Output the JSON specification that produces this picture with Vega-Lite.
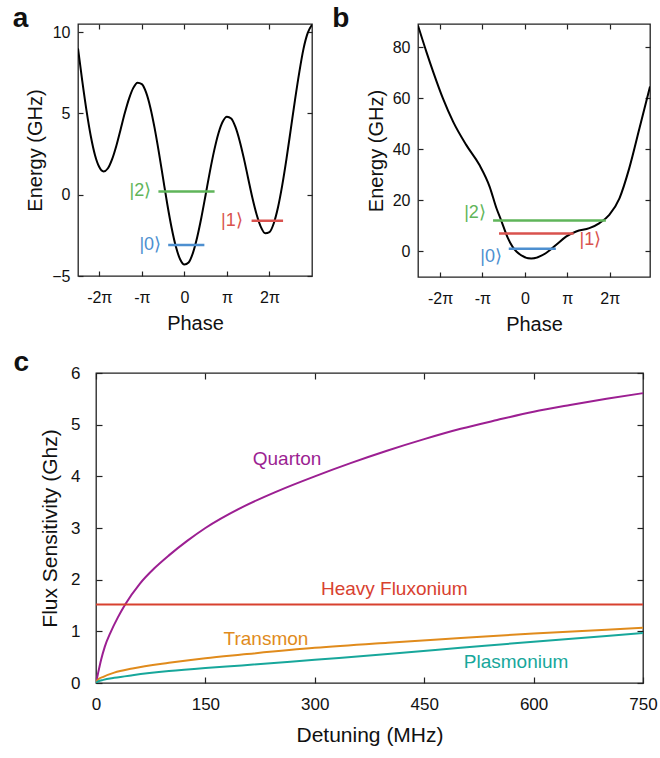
{
  "$schema": "https://vega.github.io/schema/vega-lite/v6.json",
  "padding": {"left": 12, "top": 4, "right": 8, "bottom": 4},
  "background": "white",
  "config": {
    "font": "Liberation Sans",
    "view": {"stroke": "#222", "strokeWidth": 1.3},
    "axis": {"domain": false, "grid": false, "tickColor": "#222", "tickSize": 5, "offset": -5, "tickWidth": 1.2, "labelFontSize": 16, "titleFontSize": 20, "titleFontWeight": "normal", "labelColor": "#111", "titleColor": "#111", "labelFlush": false, "labelOverlap": false},
    "title": {"fontSize": 28, "fontWeight": "bold", "anchor": "start", "frame": "bounds", "baseline": "alphabetic", "color": "#111"}
  },
  "resolve": {"scale": {"color": "independent"}},
  "datasets": {
    "a_curve": [
      {"phase": -2.5, "energy": 9.0}, {"phase": -2.4, "energy": 7.0}, {"phase": -2.3, "energy": 5.17}, {"phase": -2.2, "energy": 3.61}, {"phase": -2.1, "energy": 2.43}, {"phase": -2.0, "energy": 1.7}, {"phase": -1.9, "energy": 1.43}, {"phase": -1.8, "energy": 1.61}, {"phase": -1.7, "energy": 2.17}, {"phase": -1.6, "energy": 3.0}, {"phase": -1.5, "energy": 4.0}, {"phase": -1.4, "energy": 5.02}, {"phase": -1.3, "energy": 5.91}, {"phase": -1.2, "energy": 6.57}, {"phase": -1.1, "energy": 6.89}, {"phase": -1.0, "energy": 6.8}, {"phase": -0.9, "energy": 6.29}, {"phase": -0.8, "energy": 5.37}, {"phase": -0.7, "energy": 4.11}, {"phase": -0.6, "energy": 2.62}, {"phase": -0.5, "energy": 1.0}, {"phase": -0.4, "energy": -0.6}, {"phase": -0.3, "energy": -2.03}, {"phase": -0.2, "energy": -3.19}, {"phase": -0.1, "energy": -3.97}, {"phase": 0.0, "energy": -4.3}, {"phase": 0.1, "energy": -4.17}, {"phase": 0.2, "energy": -3.59}, {"phase": 0.3, "energy": -2.63}, {"phase": 0.4, "energy": -1.4}, {"phase": 0.5, "energy": 0.0}, {"phase": 0.6, "energy": 1.42}, {"phase": 0.7, "energy": 2.71}, {"phase": 0.8, "energy": 3.77}, {"phase": 0.9, "energy": 4.49}, {"phase": 1.0, "energy": 4.8}, {"phase": 1.1, "energy": 4.69}, {"phase": 1.2, "energy": 4.17}, {"phase": 1.3, "energy": 3.31}, {"phase": 1.4, "energy": 2.22}, {"phase": 1.5, "energy": 1.0}, {"phase": 1.6, "energy": -0.2}, {"phase": 1.7, "energy": -1.23}, {"phase": 1.8, "energy": -1.99}, {"phase": 1.9, "energy": -2.37}, {"phase": 2.0, "energy": -2.3}, {"phase": 2.1, "energy": -1.77}, {"phase": 2.2, "energy": -0.79}, {"phase": 2.3, "energy": 0.57}, {"phase": 2.4, "energy": 2.2}, {"phase": 2.5, "energy": 4.0}, {"phase": 2.6, "energy": 5.82}, {"phase": 2.7, "energy": 7.51}, {"phase": 2.8, "energy": 8.97}, {"phase": 2.9, "energy": 9.95}, {"phase": 3.0, "energy": 10.45}
    ],
    "a_levels": [
      {"state": "0", "x1": -0.38, "x2": 0.47, "energy": -3.1},
      {"state": "2", "x1": -0.61, "x2": 0.71, "energy": 0.2},
      {"state": "1", "x1": 1.58, "x2": 2.32, "energy": -1.6}
    ],
    "a_labels": [
      {"state": "0", "label": "|0⟩", "phase": -0.5, "energy": -3.1},
      {"state": "2", "label": "|2⟩", "phase": -0.73, "energy": 0.2},
      {"state": "1", "label": "|1⟩", "phase": 1.42, "energy": -1.6}
    ],
    "b_curve": [
      {"phase": -2.52, "energy": 88.4}, {"phase": -2.32, "energy": 78}, {"phase": -2.16, "energy": 70.2}, {"phase": -1.93, "energy": 59.8}, {"phase": -1.69, "energy": 50.7}, {"phase": -1.38, "energy": 41.6}, {"phase": -1.07, "energy": 33.8}, {"phase": -0.83, "energy": 25.3}, {"phase": -0.67, "energy": 16.9}, {"phase": -0.56, "energy": 12.2}, {"phase": -0.4, "energy": 5.2}, {"phase": -0.2, "energy": 0.0}, {"phase": 0.15, "energy": -2.8}, {"phase": 0.5, "energy": -0.6}, {"phase": 0.74, "energy": 2.6}, {"phase": 0.97, "energy": 5.8}, {"phase": 1.21, "energy": 7.8}, {"phase": 1.52, "energy": 9.1}, {"phase": 1.76, "energy": 11.1}, {"phase": 1.99, "energy": 14.3}, {"phase": 2.23, "energy": 20.8}, {"phase": 2.46, "energy": 32.5}, {"phase": 2.7, "energy": 48.1}, {"phase": 2.95, "energy": 64.5}
    ],
    "b_levels": [
      {"state": "0", "x1": -0.38, "x2": 0.73, "energy": 1.1},
      {"state": "1", "x1": -0.61, "x2": 1.15, "energy": 7.0},
      {"state": "2", "x1": -0.75, "x2": 1.91, "energy": 12.1}
    ],
    "b_labels": [
      {"state": "0", "label": "|0⟩", "phase": -0.54, "energy": -2.3, "side": "right"},
      {"state": "2", "label": "|2⟩", "phase": -0.92, "energy": 15.2, "side": "right"},
      {"state": "1", "label": "|1⟩", "phase": 1.29, "energy": 4.3, "side": "left"}
    ],
    "c_curves": [
      {"qubit": "Quarton", "detuning": 0, "sensitivity": 0}, {"qubit": "Quarton", "detuning": 3, "sensitivity": 0.2}, {"qubit": "Quarton", "detuning": 7, "sensitivity": 0.45}, {"qubit": "Quarton", "detuning": 12, "sensitivity": 0.7}, {"qubit": "Quarton", "detuning": 20, "sensitivity": 0.98}, {"qubit": "Quarton", "detuning": 30, "sensitivity": 1.27}, {"qubit": "Quarton", "detuning": 40, "sensitivity": 1.52}, {"qubit": "Quarton", "detuning": 60, "sensitivity": 1.92}, {"qubit": "Quarton", "detuning": 80, "sensitivity": 2.22}, {"qubit": "Quarton", "detuning": 100, "sensitivity": 2.47}, {"qubit": "Quarton", "detuning": 125, "sensitivity": 2.75}, {"qubit": "Quarton", "detuning": 150, "sensitivity": 3.0}, {"qubit": "Quarton", "detuning": 200, "sensitivity": 3.4}, {"qubit": "Quarton", "detuning": 250, "sensitivity": 3.72}, {"qubit": "Quarton", "detuning": 300, "sensitivity": 4.0}, {"qubit": "Quarton", "detuning": 350, "sensitivity": 4.26}, {"qubit": "Quarton", "detuning": 400, "sensitivity": 4.5}, {"qubit": "Quarton", "detuning": 450, "sensitivity": 4.72}, {"qubit": "Quarton", "detuning": 500, "sensitivity": 4.92}, {"qubit": "Quarton", "detuning": 550, "sensitivity": 5.09}, {"qubit": "Quarton", "detuning": 600, "sensitivity": 5.25}, {"qubit": "Quarton", "detuning": 650, "sensitivity": 5.38}, {"qubit": "Quarton", "detuning": 700, "sensitivity": 5.5}, {"qubit": "Quarton", "detuning": 750, "sensitivity": 5.61},
      {"qubit": "Heavy Fluxonium", "detuning": 0, "sensitivity": 1.52}, {"qubit": "Heavy Fluxonium", "detuning": 750, "sensitivity": 1.52},
      {"qubit": "Transmon", "detuning": 0, "sensitivity": 0}, {"qubit": "Transmon", "detuning": 3, "sensitivity": 0.07}, {"qubit": "Transmon", "detuning": 10, "sensitivity": 0.12}, {"qubit": "Transmon", "detuning": 25, "sensitivity": 0.2}, {"qubit": "Transmon", "detuning": 50, "sensitivity": 0.28}, {"qubit": "Transmon", "detuning": 100, "sensitivity": 0.39}, {"qubit": "Transmon", "detuning": 150, "sensitivity": 0.48}, {"qubit": "Transmon", "detuning": 200, "sensitivity": 0.55}, {"qubit": "Transmon", "detuning": 300, "sensitivity": 0.68}, {"qubit": "Transmon", "detuning": 400, "sensitivity": 0.78}, {"qubit": "Transmon", "detuning": 500, "sensitivity": 0.87}, {"qubit": "Transmon", "detuning": 600, "sensitivity": 0.96}, {"qubit": "Transmon", "detuning": 700, "sensitivity": 1.03}, {"qubit": "Transmon", "detuning": 750, "sensitivity": 1.07},
      {"qubit": "Plasmonium", "detuning": 0, "sensitivity": 0}, {"qubit": "Plasmonium", "detuning": 3, "sensitivity": 0.03}, {"qubit": "Plasmonium", "detuning": 10, "sensitivity": 0.06}, {"qubit": "Plasmonium", "detuning": 25, "sensitivity": 0.1}, {"qubit": "Plasmonium", "detuning": 50, "sensitivity": 0.15}, {"qubit": "Plasmonium", "detuning": 100, "sensitivity": 0.23}, {"qubit": "Plasmonium", "detuning": 150, "sensitivity": 0.29}, {"qubit": "Plasmonium", "detuning": 200, "sensitivity": 0.34}, {"qubit": "Plasmonium", "detuning": 300, "sensitivity": 0.45}, {"qubit": "Plasmonium", "detuning": 400, "sensitivity": 0.56}, {"qubit": "Plasmonium", "detuning": 500, "sensitivity": 0.68}, {"qubit": "Plasmonium", "detuning": 600, "sensitivity": 0.8}, {"qubit": "Plasmonium", "detuning": 700, "sensitivity": 0.91}, {"qubit": "Plasmonium", "detuning": 750, "sensitivity": 0.97}
    ],
    "c_labels": [
      {"qubit": "Quarton", "detuning": 262, "sensitivity": 4.34},
      {"qubit": "Heavy Fluxonium", "detuning": 409, "sensitivity": 1.81},
      {"qubit": "Transmon", "detuning": 233, "sensitivity": 0.85},
      {"qubit": "Plasmonium", "detuning": 576, "sensitivity": 0.41}
    ]
  },
  "vconcat": [
    {
      "hconcat": [
        {
          "width": 234, "height": 252,
          "title": {"text": "a", "offset": -10, "dx": -13},
          "layer": [
            {
              "data": {"name": "a_curve"},
              "mark": {"type": "line", "interpolate": "monotone", "color": "#000", "strokeWidth": 2, "clip": true},
              "encoding": {
                "x": {"field": "phase", "type": "quantitative", "scale": {"domain": [-2.5, 3], "nice": false, "zero": false},
                  "axis": {"title": "Phase", "values": [-2, -1, 0, 1, 2], "labelExpr": "datum.value == 0 ? '0' : datum.value == 1 ? 'π' : datum.value == -1 ? '-π' : datum.value + 'π'", "labelPadding": 13, "titlePadding": 8}},
                "y": {"field": "energy", "type": "quantitative", "scale": {"domain": [-5, 10.5], "nice": false, "zero": false},
                  "axis": {"title": "Energy (GHz)", "values": [-5, 0, 5, 10], "labelPadding": 8, "titlePadding": 6}}
              }
            },
            {
              "data": {"name": "a_levels"},
              "mark": {"type": "rule", "strokeWidth": 2.5},
              "encoding": {
                "x": {"field": "x1", "type": "quantitative", "axis": null},
                "x2": {"field": "x2"},
                "y": {"field": "energy", "type": "quantitative", "axis": null},
                "color": {"field": "state", "type": "nominal", "scale": {"domain": ["0", "1", "2"], "range": ["#4d8fd0", "#d9524e", "#5fb55a"]}, "legend": null}
              }
            },
            {
              "data": {"name": "a_labels"},
              "mark": {"type": "text", "align": "right", "baseline": "middle", "fontSize": 18, "dx": -2},
              "encoding": {
                "x": {"field": "phase", "type": "quantitative", "axis": null},
                "y": {"field": "energy", "type": "quantitative", "axis": null},
                "text": {"field": "label"},
                "color": {"field": "state", "type": "nominal", "legend": null}
              }
            },
            {
              "data": {"name": "a_curve"},
              "mark": {"type": "line", "opacity": 0},
              "encoding": {
                "x": {"field": "phase", "type": "quantitative", "axis": {"orient": "top", "title": null, "labels": false, "values": [-2, -1, 0, 1, 2]}},
                "y": {"field": "energy", "type": "quantitative", "axis": {"orient": "right", "title": null, "labels": false, "values": [-5, 0, 5, 10]}}
              }
            }
          ],
          "resolve": {"axis": {"x": "independent", "y": "independent"}}
        },
        {
          "width": 232, "height": 253,
          "title": {"text": "b", "offset": -10, "dx": -34},
          "layer": [
            {
              "data": {"name": "b_curve"},
              "mark": {"type": "line", "interpolate": "monotone", "color": "#000", "strokeWidth": 2, "clip": true},
              "encoding": {
                "x": {"field": "phase", "type": "quantitative", "scale": {"domain": [-2.52, 2.95], "nice": false, "zero": false},
                  "axis": {"title": "Phase", "values": [-2, -1, 0, 1, 2], "labelExpr": "datum.value == 0 ? '0' : datum.value == 1 ? 'π' : datum.value == -1 ? '-π' : datum.value + 'π'", "labelPadding": 13, "titlePadding": 8}},
                "y": {"field": "energy", "type": "quantitative", "scale": {"domain": [-10, 89], "nice": false, "zero": false},
                  "axis": {"title": "Energy (GHz)", "values": [0, 20, 40, 60, 80], "labelPadding": 8, "titlePadding": 6}}
              }
            },
            {
              "data": {"name": "b_levels"},
              "mark": {"type": "rule", "strokeWidth": 2.5},
              "encoding": {
                "x": {"field": "x1", "type": "quantitative", "axis": null},
                "x2": {"field": "x2"},
                "y": {"field": "energy", "type": "quantitative", "axis": null},
                "color": {"field": "state", "type": "nominal", "scale": {"domain": ["0", "1", "2"], "range": ["#4d8fd0", "#d9524e", "#5fb55a"]}, "legend": null}
              }
            },
            {
              "data": {"name": "b_labels"},
              "transform": [{"filter": "datum.side == 'right'"}],
              "mark": {"type": "text", "align": "right", "baseline": "middle", "fontSize": 18},
              "encoding": {
                "x": {"field": "phase", "type": "quantitative", "axis": null},
                "y": {"field": "energy", "type": "quantitative", "axis": null},
                "text": {"field": "label"},
                "color": {"field": "state", "type": "nominal", "legend": null}
              }
            },
            {
              "data": {"name": "b_labels"},
              "transform": [{"filter": "datum.side == 'left'"}],
              "mark": {"type": "text", "align": "left", "baseline": "middle", "fontSize": 18},
              "encoding": {
                "x": {"field": "phase", "type": "quantitative", "axis": null},
                "y": {"field": "energy", "type": "quantitative", "axis": null},
                "text": {"field": "label"},
                "color": {"field": "state", "type": "nominal", "legend": null}
              }
            },
            {
              "data": {"name": "b_curve"},
              "mark": {"type": "line", "opacity": 0},
              "encoding": {
                "x": {"field": "phase", "type": "quantitative", "axis": {"orient": "top", "title": null, "labels": false, "values": [-2, -1, 0, 1, 2]}},
                "y": {"field": "energy", "type": "quantitative", "axis": {"orient": "right", "title": null, "labels": false, "values": [0, 20, 40, 60, 80]}}
              }
            }
          ],
          "resolve": {"axis": {"x": "independent", "y": "independent"}}
        }
      ],
      "spacing": 17
    },
    {
      "hconcat": [
        {
          "width": 1, "height": 10,
          "view": {"stroke": null},
          "data": {"values": [{"spacer": 1}]},
          "mark": {"type": "point", "opacity": 0},
          "encoding": {}
        },
        {
          "width": 547, "height": 310,
          "title": {"text": "c", "offset": -13, "dx": -26},
          "layer": [
            {
              "data": {"name": "c_curves"},
              "mark": {"type": "line", "interpolate": "monotone", "strokeWidth": 2, "clip": true},
              "encoding": {
                "x": {"field": "detuning", "type": "quantitative", "scale": {"domain": [0, 750], "nice": false},
                  "axis": {"title": "Detuning (MHz)", "values": [0, 150, 300, 450, 600, 750], "labelPadding": 13, "titlePadding": 12, "tickSize": 6, "offset": -6, "labelFontSize": 17, "titleFontSize": 21}},
                "y": {"field": "sensitivity", "type": "quantitative", "scale": {"domain": [0, 6], "nice": false},
                  "axis": {"title": "Flux Sensitivity (Ghz)", "values": [0, 1, 2, 3, 4, 5, 6], "labelPadding": 16, "titlePadding": 10, "tickSize": 6, "offset": -6, "labelFontSize": 17, "titleFontSize": 21}},
                "color": {"field": "qubit", "type": "nominal", "scale": {"domain": ["Quarton", "Heavy Fluxonium", "Transmon", "Plasmonium"], "range": ["#9c1f92", "#d8412f", "#e08b1c", "#17a79b"]}, "legend": null},
                "detail": {"field": "qubit"}
              }
            },
            {
              "data": {"name": "c_labels"},
              "mark": {"type": "text", "align": "center", "baseline": "middle", "fontSize": 19},
              "encoding": {
                "x": {"field": "detuning", "type": "quantitative", "axis": null},
                "y": {"field": "sensitivity", "type": "quantitative", "axis": null},
                "text": {"field": "qubit"},
                "color": {"field": "qubit", "type": "nominal", "legend": null}
              }
            },
            {
              "data": {"name": "c_labels"},
              "mark": {"type": "point", "opacity": 0},
              "encoding": {
                "x": {"field": "detuning", "type": "quantitative", "axis": {"orient": "top", "title": null, "labels": false, "values": [0, 150, 300, 450, 600, 750], "tickSize": 6, "offset": -6}},
                "y": {"field": "sensitivity", "type": "quantitative", "axis": {"orient": "right", "title": null, "labels": false, "values": [0, 1, 2, 3, 4, 5, 6], "tickSize": 6, "offset": -6}}
              }
            }
          ],
          "resolve": {"axis": {"x": "independent", "y": "independent"}}
        }
      ],
      "spacing": -70
    }
  ],
  "spacing": 13
}
